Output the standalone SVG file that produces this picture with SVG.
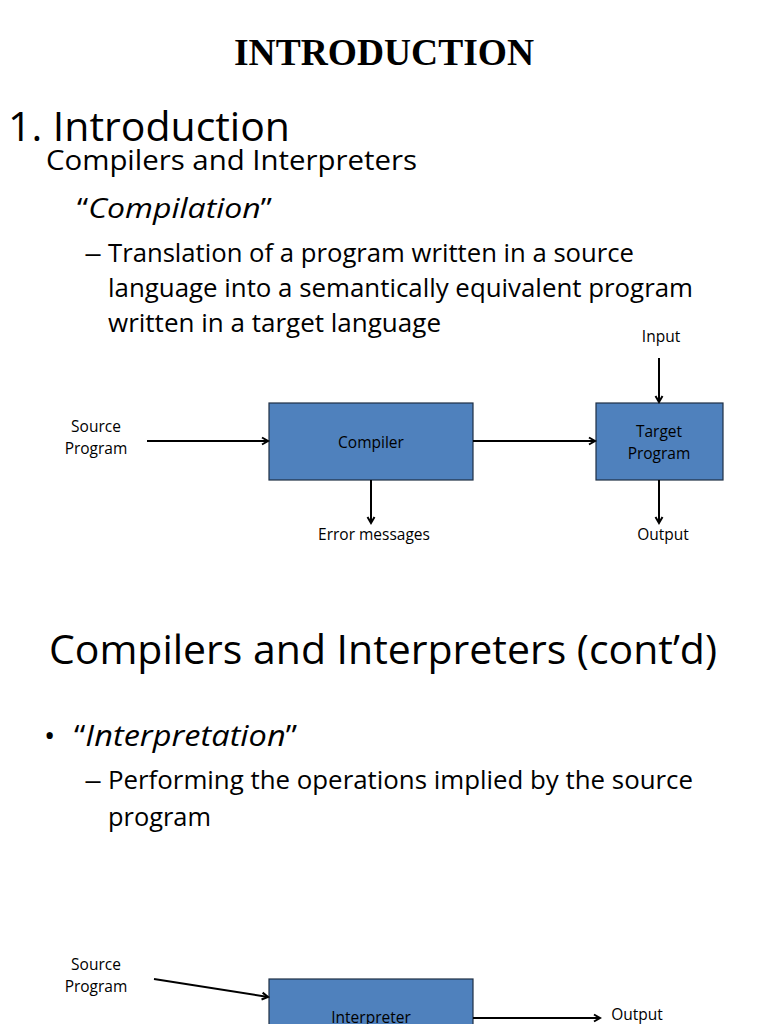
<svg xmlns="http://www.w3.org/2000/svg" width="768" height="1024" viewBox="0 0 768 1024">
<style>
.s{font-family:"Open Sans","Liberation Sans",sans-serif;fill:#000}
.lbl{font-family:"Open Sans","Liberation Sans",sans-serif;font-size:15.5px;fill:#000;text-anchor:middle}
.box{fill:#4f81bd;stroke:#1f2f44;stroke-width:1.2}
.con{stroke:#000;stroke-width:2;fill:none;marker-end:url(#ah)}
</style>
<defs>
<marker id="ah" viewBox="0 0 10 10" refX="8" refY="5" markerWidth="10" markerHeight="10" orient="auto" markerUnits="userSpaceOnUse">
<path d="M2,1.5 L8,5 L2,8.5" fill="none" stroke="#000" stroke-width="2"/>
</marker>
</defs>
<rect width="768" height="1024" fill="#fff"/>
<text x="384" y="65" text-anchor="middle" font-family="Liberation Serif,serif" font-weight="bold" font-size="38" textLength="300" lengthAdjust="spacingAndGlyphs">INTRODUCTION</text>
<text class="s" x="8" y="141" font-size="40" textLength="282" lengthAdjust="spacingAndGlyphs">1. Introduction</text>
<text class="s" x="46" y="170" font-size="28" textLength="371" lengthAdjust="spacingAndGlyphs">Compilers and Interpreters</text>
<text class="s" x="77" y="218" font-size="28" textLength="195" lengthAdjust="spacingAndGlyphs">“<tspan font-style="italic">Compilation</tspan>”</text>
<text class="s" x="84" y="262" font-size="26" textLength="18" lengthAdjust="spacingAndGlyphs">–</text>
<text class="s" x="108" y="262" font-size="26" textLength="526" lengthAdjust="spacingAndGlyphs">Translation of a program written in a source</text>
<text class="s" x="108" y="297" font-size="26" textLength="585" lengthAdjust="spacingAndGlyphs">language into a semantically equivalent program</text>
<text class="s" x="108" y="332" font-size="26" textLength="333" lengthAdjust="spacingAndGlyphs">written in a target language</text>
<g id="input"><text class="lbl" x="661" y="342">Input</text></g>
<g id="source1"><text class="lbl" x="96" y="432">Source</text><text class="lbl" x="96" y="454">Program</text></g>
<g id="compiler"><rect class="box" x="269" y="403" width="204" height="77"/><text class="lbl" x="371" y="448">Compiler</text></g>
<g id="target"><rect class="box" x="596" y="403" width="127" height="77"/><text class="lbl" x="659" y="437">Target</text><text class="lbl" x="659" y="459">Program</text></g>
<g id="errors"><text class="lbl" x="374" y="540">Error messages</text></g>
<g id="output1"><text class="lbl" x="663" y="540">Output</text></g>
<text class="s" x="383" y="664" font-size="40" text-anchor="middle" textLength="668" lengthAdjust="spacingAndGlyphs">Compilers and Interpreters (cont’d)</text>
<text class="s" x="44" y="746" font-size="30">•</text>
<text class="s" x="74" y="746" font-size="30" textLength="223" lengthAdjust="spacingAndGlyphs">“<tspan font-style="italic">Interpretation</tspan>”</text>
<text class="s" x="84" y="789" font-size="26" textLength="18" lengthAdjust="spacingAndGlyphs">–</text>
<text class="s" x="108" y="789" font-size="26" textLength="585" lengthAdjust="spacingAndGlyphs">Performing the operations implied by the source</text>
<text class="s" x="108" y="826" font-size="26" textLength="103" lengthAdjust="spacingAndGlyphs">program</text>
<g id="source2"><text class="lbl" x="96" y="970">Source</text><text class="lbl" x="96" y="992">Program</text></g>
<g id="interpreter"><rect class="box" x="269" y="979" width="204" height="60"/><text class="lbl" x="371" y="1023">Interpreter</text></g>
<g id="output2"><text class="lbl" x="637" y="1020">Output</text></g>
<g id="connectors">
<line class="con" x1="659" y1="358" x2="659" y2="402"/>
<line class="con" x1="147" y1="441" x2="268" y2="441"/>
<line class="con" x1="473" y1="441" x2="595" y2="441"/>
<line class="con" x1="371" y1="480" x2="371" y2="523"/>
<line class="con" x1="659" y1="480" x2="659" y2="523"/>
<line class="con" x1="154" y1="979" x2="268" y2="997"/>
<line class="con" x1="473" y1="1018" x2="600" y2="1018"/>
</g>
</svg>
